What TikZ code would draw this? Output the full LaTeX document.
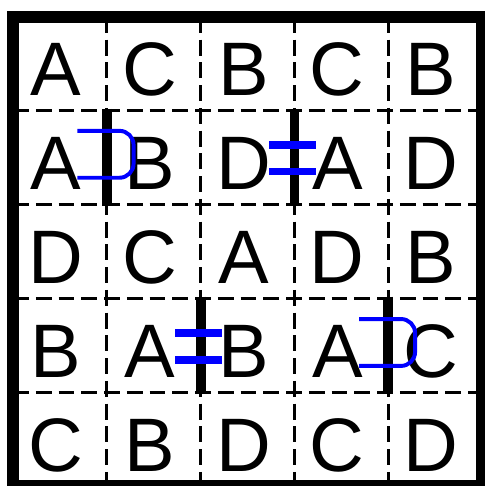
\documentclass[tikz,border=0pt]{standalone}
\usepackage{fontspec}
\setmainfont{Liberation Sans}
\usepackage{tikz}
\definecolor{Azul}{RGB}{0, 0, 255}

\begin{document}
\begin{tikzpicture}[
        letra/.style={inner sep=0pt, font=\fontsize{23}{23}\selectfont},
        rejilla/.style={line width=0.9pt, dash pattern=on 4.8pt off 2.1pt},
        borde/.style={line width=3.6pt},
        muro/.style={line width=3pt},
        marca/.style={draw=Azul, line width=1.2pt, rounded corners=0.15cm},
        igual/.style={draw=Azul, line width=2.4pt}
    ]
        % Márgenes de la imagen (borde derecho e inferior recortados)
        \useasboundingbox (-0.139,0) rectangle (5.021,5.181);

        % Rejilla interior discontinua
        \draw[rejilla] (1,5) -- (1,0) (2,5) -- (2,0) (3,5) -- (3,0) (4,5) -- (4,0);
        \draw[rejilla] (0,4) -- (5,4) (0,3) -- (5,3) (0,2) -- (5,2) (0,1) -- (5,1);

        % Fila 1
        \node[letra] (f1c1) at (0.457,4.436) {A};
        \node[letra] (f1c2) at (1.457,4.436) {C};
        \node[letra] (f1c3) at (2.457,4.436) {B};
        \node[letra] (f1c4) at (3.457,4.436) {C};
        \node[letra] (f1c5) at (4.457,4.436) {B};
        % Fila 2
        \node[letra] (f2c1) at (0.457,3.436) {A};
        \node[letra] (f2c2) at (1.457,3.436) {B};
        \node[letra] (f2c3) at (2.457,3.436) {D};
        \node[letra] (f2c4) at (3.457,3.436) {A};
        \node[letra] (f2c5) at (4.457,3.436) {D};
        % Fila 3
        \node[letra] (f3c1) at (0.457,2.436) {D};
        \node[letra] (f3c2) at (1.457,2.436) {C};
        \node[letra] (f3c3) at (2.457,2.436) {A};
        \node[letra] (f3c4) at (3.457,2.436) {D};
        \node[letra] (f3c5) at (4.457,2.436) {B};
        % Fila 4
        \node[letra] (f4c1) at (0.457,1.436) {B};
        \node[letra] (f4c2) at (1.457,1.436) {A};
        \node[letra] (f4c3) at (2.457,1.436) {B};
        \node[letra] (f4c4) at (3.457,1.436) {A};
        \node[letra] (f4c5) at (4.457,1.436) {C};
        % Fila 5
        \node[letra] (f5c1) at (0.457,0.436) {C};
        \node[letra] (f5c2) at (1.457,0.436) {B};
        \node[letra] (f5c3) at (2.457,0.436) {D};
        \node[letra] (f5c4) at (3.457,0.436) {C};
        \node[letra] (f5c5) at (4.457,0.436) {D};

        % Muros gruesos entre celdas
        \draw[muro] (1,4.02) -- (1,2.98);
        \draw[muro] (3,4.02) -- (3,2.98);
        \draw[muro] (2,2.02) -- (2,0.98);
        \draw[muro] (4,2.02) -- (4,0.98);

        % Marco exterior
        \draw[borde] (0,0) rectangle (5,5);

        % Marcas azules: signos de igual
        \draw[igual] (2.73,3.635) -- (3.23,3.635) (2.73,3.353) -- (3.23,3.353);
        \draw[igual] (1.727,1.631) -- (2.228,1.631) (1.727,1.343) -- (2.228,1.343);

        % Marcas azules: semicírculos
        \draw[marca] (0.685,3.786) -- (1.285,3.786) -- (1.285,3.286) -- (0.685,3.286);
        \draw[marca] (3.689,1.780) -- (4.286,1.780) -- (4.286,1.280) -- (3.689,1.280);
    \end{tikzpicture}
\end{document}
